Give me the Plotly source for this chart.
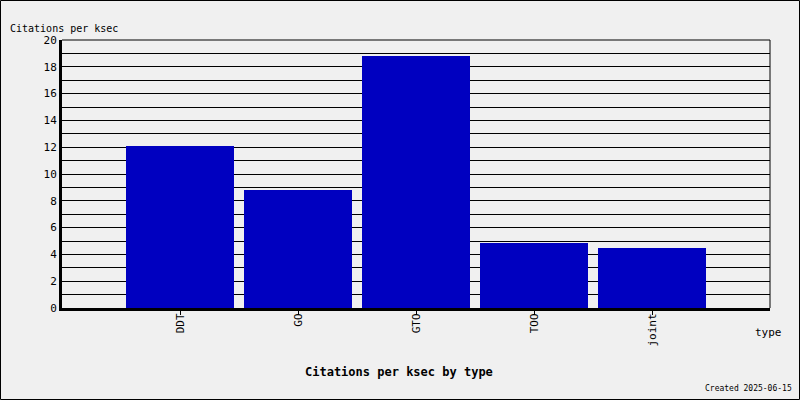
import plotly.graph_objects as go

categories = ["DDT", "GO", "GTO", "TOO", "joint"]
values = [12.1, 8.8, 18.8, 4.85, 4.48]
y_ticks = [0, 2, 4, 6, 8, 10, 12, 14, 16, 18, 20]

FONT = "DejaVu Sans Mono"

fig = go.Figure()
fig.add_trace(go.Bar(x=list(range(len(categories))), y=values,
                     marker=dict(color="#0000c0", line=dict(width=0)),
                     width=0.915))

fig.update_layout(
    width=800, height=400,
    paper_bgcolor="#f0f0f0", plot_bgcolor="#f0f0f0",
    margin=dict(l=62, r=30, t=40, b=92),
    showlegend=False,
    font=dict(family=FONT, size=11, color="black"),
    bargap=0,
)
fig.update_xaxes(
    range=[-1, 5], tickmode="array", tickvals=list(range(len(categories))),
    ticktext=categories, tickangle=-90, ticks="outside", ticklen=4,
    tickcolor="black", showgrid=False, zeroline=False,
    showline=True, linewidth=3, linecolor="black",
    tickfont=dict(family=FONT, size=11), ticklabelstandoff=-6,
)
fig.update_yaxes(
    range=[0, 20], tickmode="array", tickvals=y_ticks,
    showgrid=True, gridcolor="black", gridwidth=1,
    minor=dict(dtick=1, showgrid=True, gridcolor="black", gridwidth=1),
    zeroline=False, showline=True, linewidth=3, linecolor="black",
    ticks="", tickfont=dict(family=FONT, size=11),
)
fig.add_shape(type="line", xref="paper", yref="paper", x0=1, x1=1, y0=0, y1=1,
              line=dict(color="black", width=1))
fig.add_shape(type="line", xref="paper", yref="paper", x0=0, x1=1, y0=1, y1=1,
              line=dict(color="black", width=1))
# outer border
fig.add_shape(type="rect", xref="paper", yref="paper",
              x0=-61.5/708, x1=1+29.5/708, y0=-91.5/268, y1=1+39.5/268,
              line=dict(color="black", width=1), layer="above")

fig.add_annotation(text="Citations per ksec", xref="paper", yref="paper",
                   x=-54/708, y=1+11/268, xanchor="left", yanchor="middle",
                   showarrow=False, font=dict(family=FONT, size=10))
fig.add_annotation(text="type", xref="paper", yref="paper",
                   x=1-2/708, y=-24/268, xanchor="center", yanchor="middle",
                   showarrow=False, font=dict(family=FONT, size=11))
fig.add_annotation(text="<b>Citations per ksec by type</b>", xref="paper", yref="paper",
                   x=(399-62)/708, y=-64/268, xanchor="center", yanchor="middle",
                   showarrow=False, font=dict(family=FONT, size=12))
fig.add_annotation(text="Created 2025-06-15", xref="paper", yref="paper",
                   x=1+24/708, y=-80/268, xanchor="right", yanchor="middle",
                   showarrow=False, font=dict(family=FONT, size=8))

fig.write_html("out.html", config={"displayModeBar": False},
               post_script="document.body.style.margin='0';")
